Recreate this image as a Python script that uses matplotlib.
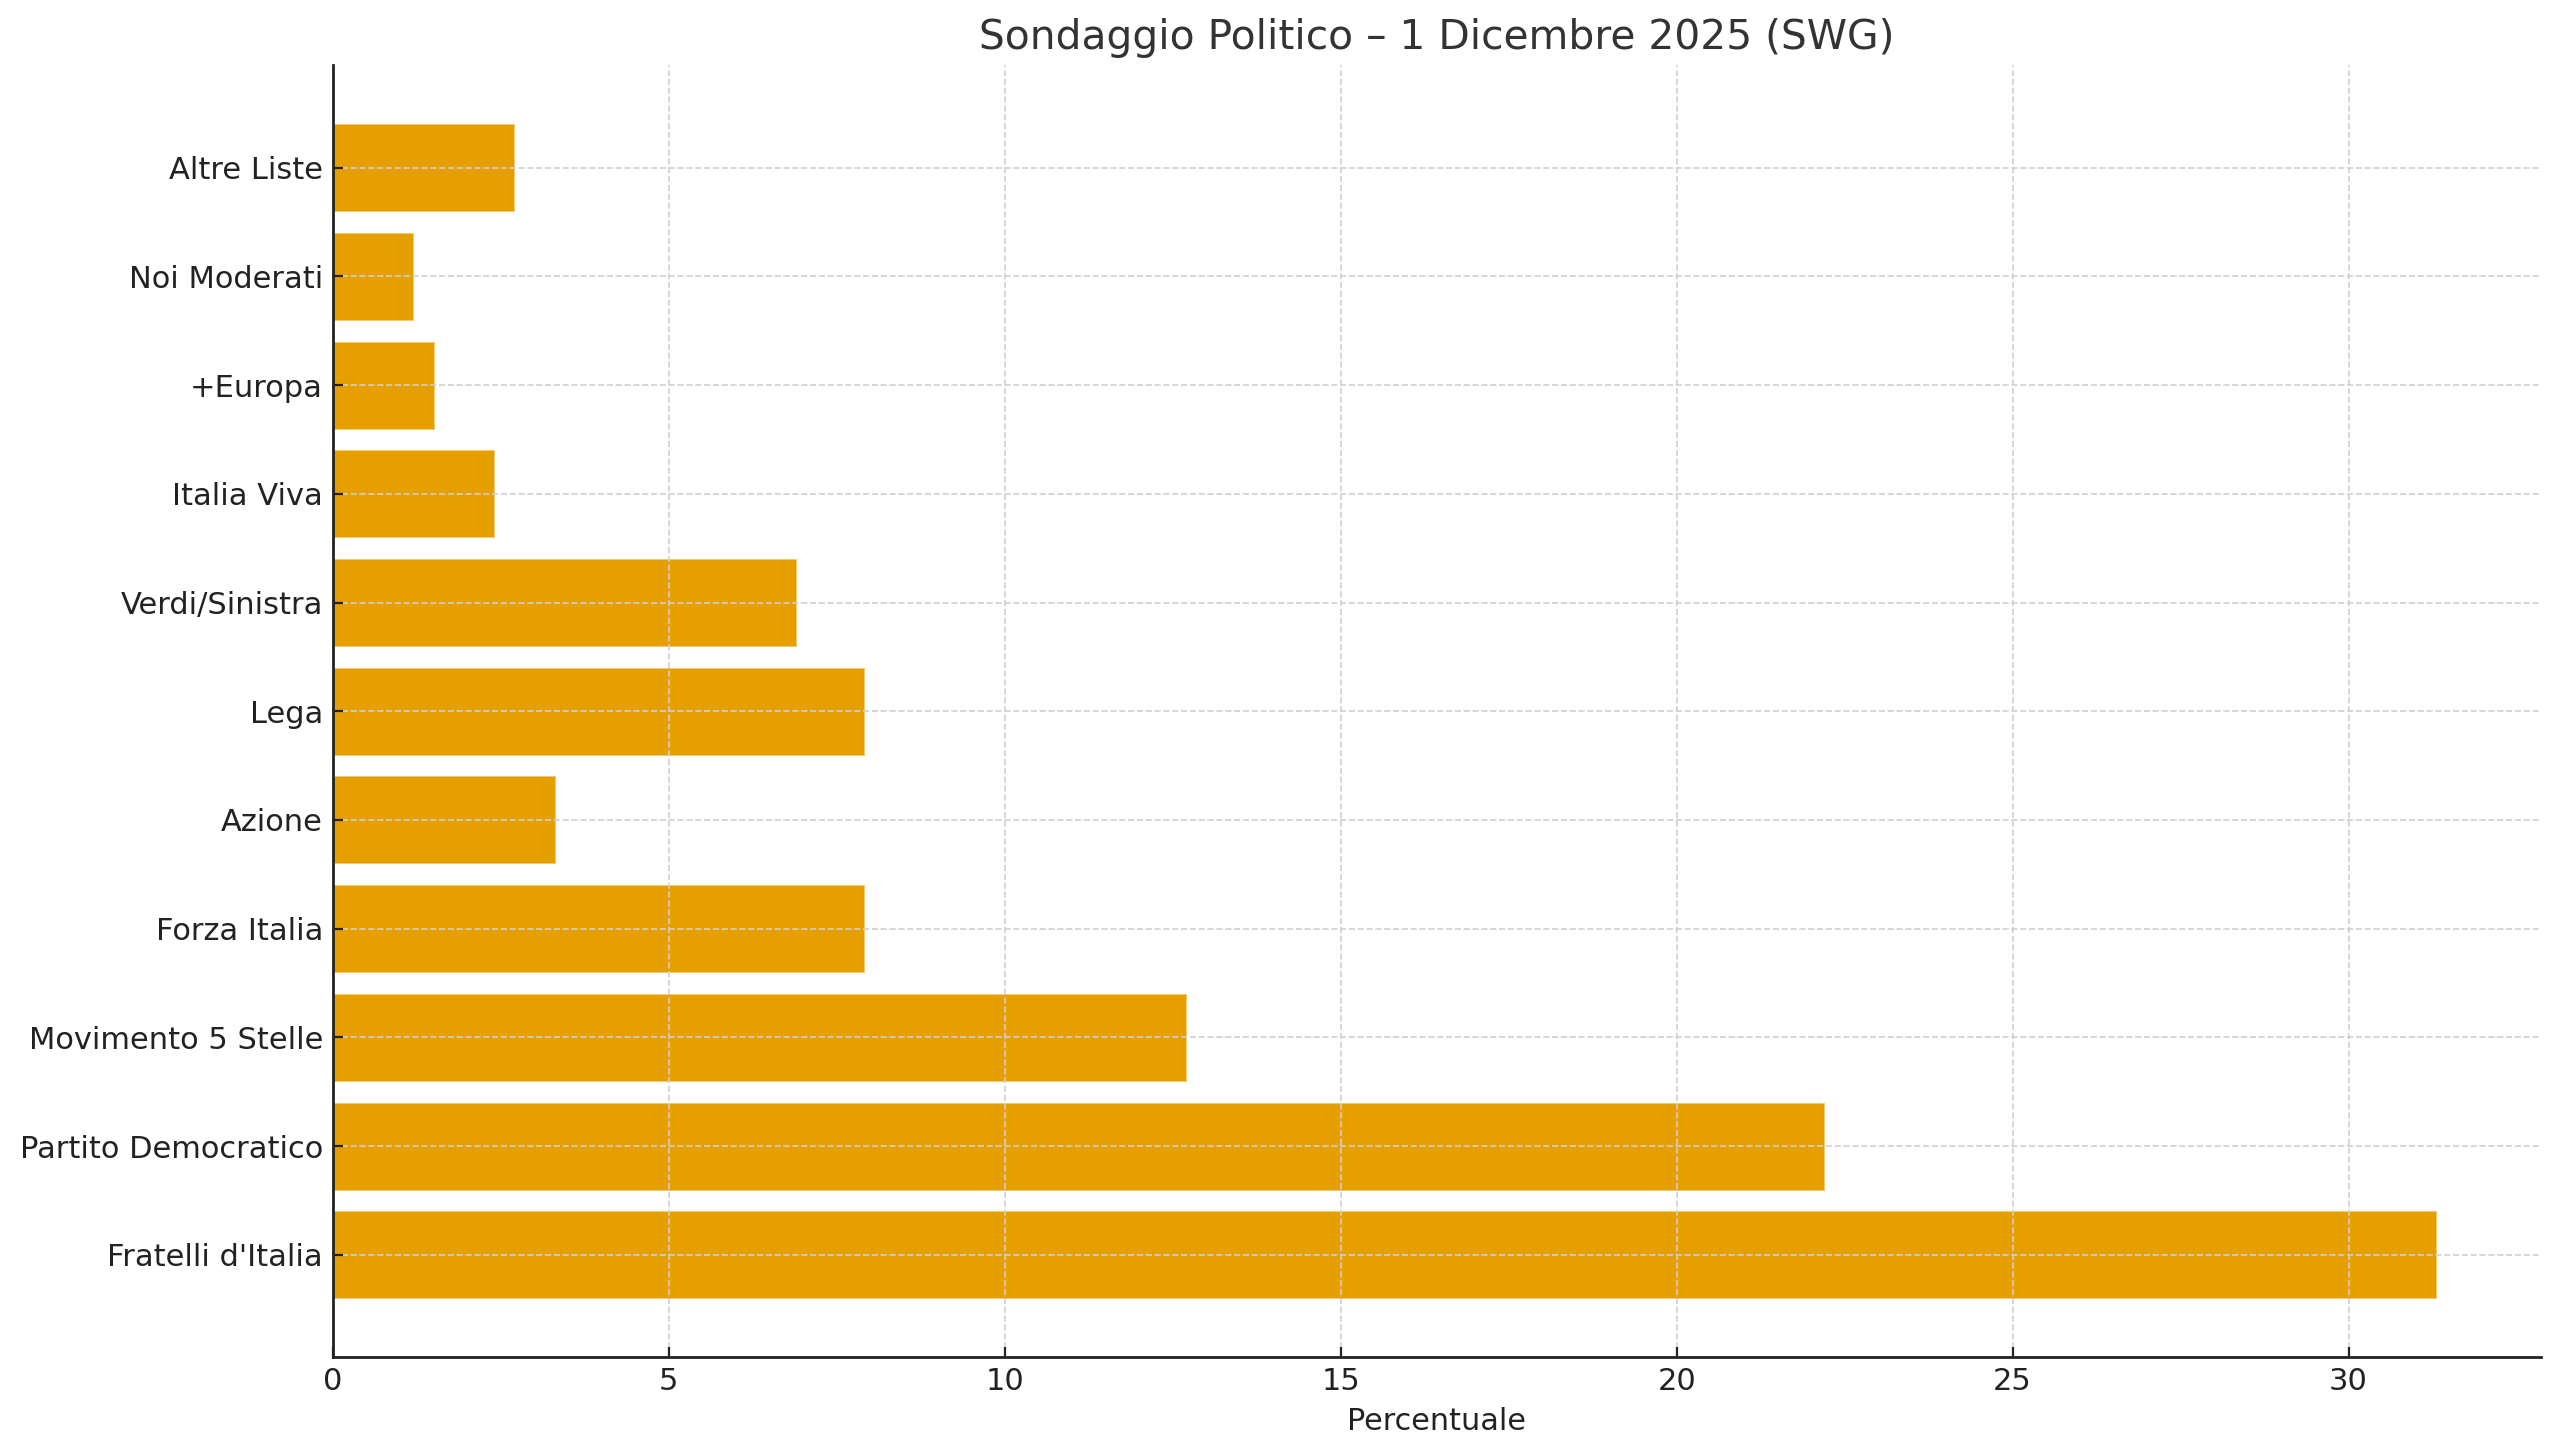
import matplotlib
matplotlib.use("Agg")
import matplotlib.pyplot as plt

# SWG poll, 1 December 2025 (values in %)
parties = ["Fratelli d'Italia", "Partito Democratico", "Movimento 5 Stelle",
           "Forza Italia", "Azione", "Lega", "Verdi/Sinistra", "Italia Viva",
           "+Europa", "Noi Moderati", "Altre Liste"]
values = [31.3, 22.2, 12.7, 7.9, 3.3, 7.9, 6.9, 2.4, 1.5, 1.2, 2.7]

fig, ax = plt.subplots(figsize=(12.8, 7.27), dpi=200)

ax.barh(parties, values, height=0.8, color="#E69F00",
        edgecolor="#f3c872", linewidth=0.35)

ax.set_title("Sondaggio Politico – 1 Dicembre 2025 (SWG)", fontsize=14.7, color="#333333")
ax.set_xlabel("Percentuale", fontsize=10.9, color="#222222", labelpad=4)

ax.grid(True, linestyle="--", color="#cfcfcf", linewidth=0.6)
ax.tick_params(axis="both", direction="in", labelsize=11, colors="#222222", length=3.5)
for side in ["top", "right"]:
    ax.spines[side].set_visible(False)
for side in ["left", "bottom"]:
    ax.spines[side].set_color("#222222")
    ax.spines[side].set_linewidth(1.0)

fig.subplots_adjust(left=0.130, right=0.9926, top=0.955, bottom=0.0667)
fig.savefig("out.png", dpi=200)
